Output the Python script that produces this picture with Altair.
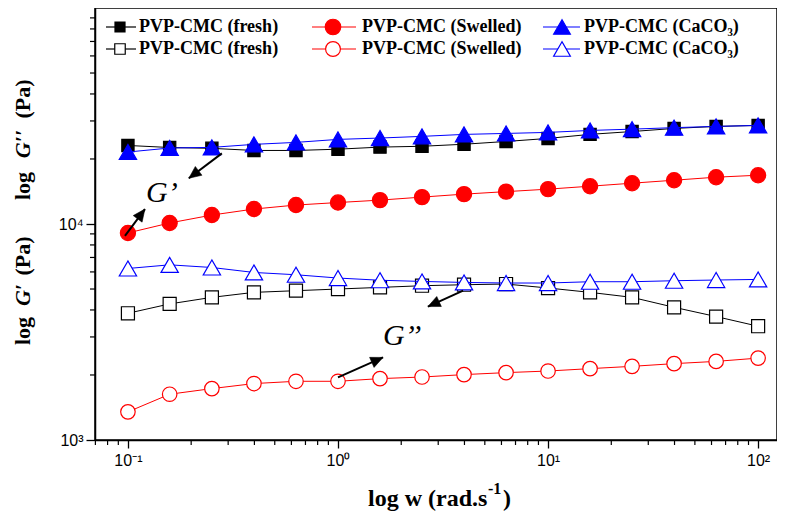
import altair as alt
import pandas as pd

# ---------------- data ----------------
freq = [0.1, 0.158, 0.251, 0.398, 0.631, 1.0, 1.585, 2.512, 3.981, 6.31,
        10.0, 15.85, 25.12, 39.81, 63.1, 100.0]

g1_fresh = [23100, 22600, 22400, 21900, 21900, 22200, 22700, 22900, 23400, 24100,
            24900, 26000, 26800, 27700, 28300, 28600]
g1_swelled = [9090, 10110, 11000, 11730, 12240, 12570, 12900, 13320, 13750, 14120,
              14500, 14960, 15450, 15950, 16470, 16820]
g1_caco3 = [21540, 22480, 22630, 23370, 23870, 24640, 25000, 25450, 25990, 26260,
            26550, 27110, 27490, 27930, 28300, 28600]
g2_fresh = [3861, 4266, 4575, 4825, 4912, 5000, 5087, 5179, 5234, 5273,
            5054, 4825, 4575, 4115, 3728, 3363]
g2_swelled = [1350, 1629, 1730, 1825, 1870, 1870, 1924, 1957, 2008, 2051,
              2086, 2140, 2193, 2257, 2312, 2394]
g2_caco3 = [6223, 6471, 6290, 5965, 5821, 5621, 5491, 5421, 5364, 5330,
            5330, 5404, 5404, 5462, 5503, 5538]

legend_labels = ["PVP-CMC (fresh)", "PVP-CMC (Swelled)", "PVP-CMC (CaCO\u2083)",
                 "PVP-CMC (fresh)", "PVP-CMC (Swelled)", "PVP-CMC (CaCO\u2083)"]

x_major = [0.1, 1, 10, 100]
x_major_labels = ["10\u207b\u00b9", "10\u2070", "10\u00b9", "10\u00b2"]
x_minor = [0.07, 0.08, 0.09,
           0.2, 0.3, 0.4, 0.5, 0.6, 0.7, 0.8, 0.9,
           2, 3, 4, 5, 6, 7, 8, 9,
           20, 30, 40, 50, 60, 70, 80, 90]

y_major = [1000, 10000]
y_major_labels = ["10\u00b3", "10\u2074"]
y_minor = [2000, 3000, 4000, 5000, 6000, 7000, 8000, 9000,
           20000, 30000, 40000, 50000, 60000, 70000, 80000, 90000]

x_title_parts = ["log w (rad.s", "-1", ")"]
y_title_upper = ["log", "G\u2032\u2032", "(Pa)"]
y_title_lower = ["log", "G\u2032", "(Pa)"]

# annotation arrows (data coordinates): start -> tip
arrow_x0 = [0.280, 0.0968, 1.0, 3.94]
arrow_y0 = [21240, 8805, 1951, 4913]
arrow_x1 = [0.195, 0.1205, 1.638, 2.68]
arrow_y1 = [16290, 11730, 2412, 4146]
annot_text = ["G\u2019", "G\u2019\u2019"]
annot_x = [0.145, 2.02]
annot_y = [13900, 3015]

# ---------------- styles ----------------
arrow_angles = [233, 36.5, 66, 245.4]
W, H = 682, 432
SERIF = "Liberation Serif"
SANS = "Liberation Sans"

styles = [
    dict(color="#000000", shape="square", filled=True, size=150),
    dict(color="#ff0000", shape="circle", filled=True, size=230),
    dict(color="#0000ff", shape="triangle-up", filled=True, size=300),
    dict(color="#000000", shape="square", filled=False, size=170),
    dict(color="#ff0000", shape="circle", filled=False, size=210),
    dict(color="#0000ff", shape="triangle-up", filled=False, size=300),
]
series_values = [g1_fresh, g1_swelled, g1_caco3, g2_fresh, g2_swelled, g2_caco3]

xscale = alt.Scale(type="log", domain=[0.0697, 123])
yscale = alt.Scale(type="log", domain=[1000, 100000])


def label_expr(vals, labs):
    parts = [f"abs(datum.value - {v}) < {v * 1e-6} ? '{l}'" for v, l in zip(vals, labs)]
    return " : ".join(parts) + " : ''"


x_axis = alt.Axis(
    values=x_major, labelExpr=label_expr(x_major, x_major_labels),
    tickSize=8, grid=False, labelOverlap=False, labelFlush=False,
    labelFont=SANS, labelFontSize=16, labelColor="black", labelPadding=4,
    domainColor="black", domainWidth=1.5, tickColor="black", tickWidth=1.3,
    title="",
)
y_axis = alt.Axis(
    values=y_major, labelExpr=label_expr(y_major, y_major_labels),
    tickSize=9, grid=False, labelOverlap=False, labelFlush=False,
    labelFont=SANS, labelFontSize=16, labelColor="black", labelPadding=3,
    domainColor="black", domainWidth=1.5, tickColor="black", tickWidth=1.3,
    title="",
)


def X(field):
    return alt.X(field, scale=xscale, axis=x_axis)


def Y(field):
    return alt.Y(field, scale=yscale, axis=y_axis)


layers = []
one = pd.DataFrame({"a": [0]})

# series
for vals, st in zip(series_values, styles):
    df = pd.DataFrame({"freq": freq, "value": vals})
    layers.append(alt.Chart(df).mark_line(color=st["color"], strokeWidth=1).encode(
        x=X("freq:Q"), y=Y("value:Q")))
    layers.append(
        alt.Chart(df).mark_point(
            shape=st["shape"], filled=True, size=st["size"], opacity=1,
            fill=st["color"] if st["filled"] else "white",
            stroke=st["color"], strokeWidth=1.2,
        ).encode(x=X("freq:Q"), y=Y("value:Q"))
    )

# minor ticks (bottom/left) and top/right ticks
xmin_df = pd.DataFrame({"t": x_minor})
xall_df = pd.DataFrame({"t": x_minor + x_major})
ymin_df = pd.DataFrame({"t": y_minor})
yall_df = pd.DataFrame({"t": y_minor + y_major})
layers.append(alt.Chart(xmin_df).mark_rule(color="black", strokeWidth=1.2).encode(
    x=X("t:Q"), y=alt.value(H), y2=alt.value(H + 5)))
layers.append(alt.Chart(xall_df).mark_rule(color="black", strokeWidth=1.2).encode(
    x=X("t:Q"), y=alt.value(0), y2=alt.value(-4)))
layers.append(alt.Chart(ymin_df).mark_rule(color="black", strokeWidth=1.2).encode(
    y=Y("t:Q"), x=alt.value(0), x2=alt.value(-5)))
layers.append(alt.Chart(yall_df).mark_rule(color="black", strokeWidth=1.2).encode(
    y=Y("t:Q"), x=alt.value(W), x2=alt.value(W + 5)))

# arrows
arr_df = pd.DataFrame({"x0": arrow_x0, "y0": arrow_y0, "x1": arrow_x1, "y1": arrow_y1,
                       "ang": arrow_angles})
layers.append(
    alt.Chart(arr_df).mark_rule(color="black", strokeWidth=2).encode(
        x=X("x0:Q"), y=Y("y0:Q"), x2="x1:Q", y2="y1:Q",
    )
)
layers.append(
    alt.Chart(arr_df).mark_point(
        shape="M0,0L-0.9,2L0.9,2Z", filled=True, fill="black", stroke="black",
        strokeWidth=0.5, size=150, opacity=1,
    ).encode(
        x=X("x1:Q"), y=Y("y1:Q"),
        angle=alt.Angle("ang:Q", scale=None),
    )
)
ann_df = pd.DataFrame({"x": annot_x, "y": annot_y, "t": annot_text})
layers.append(
    alt.Chart(ann_df).mark_text(
        font=SERIF, fontStyle="italic", fontSize=30, color="black",
        align="center", baseline="middle",
    ).encode(x=X("x:Q"), y=Y("y:Q"), text="t:N")
)

# y-axis titles (rotated pieces)
ytitle_pos = [186, 144, 99, 331, 295, 256]
ytitle_style = ["normal", "italic", "normal"] * 2
for txt, ypix, style in zip(y_title_upper + y_title_lower, ytitle_pos, ytitle_style):
    layers.append(
        alt.Chart(one).mark_text(
            text=txt, angle=270, font=SERIF, fontWeight="bold", fontStyle=style,
            fontSize=22, color="black", align="center", baseline="middle",
        ).encode(x=alt.value(-72), y=alt.value(ypix - 8))
    )

# x-axis title (pieces, with raised exponent)
xtitle_x = [273, 393, 408]
xtitle_y = [506, 494, 506]
xtitle_size = [24, 16, 24]
for txt, xp, yp, fs in zip(x_title_parts, xtitle_x, xtitle_y, xtitle_size):
    layers.append(
        alt.Chart(one).mark_text(
            text=txt, font=SERIF, fontWeight="bold", fontSize=fs, color="black",
            align="left", baseline="alphabetic",
        ).encode(x=alt.value(xp), y=alt.value(yp - 8))
    )

# legend (manual)
leg_rows = [19, 41]
leg_line = [(11, 41), (217, 261), (448, 485)]
leg_sym = [25, 238, 467]
leg_text = [44, 267, 489]
leg_sizes = [100, 240, 280, 110, 220, 280]
for i, (lab, st) in enumerate(zip(legend_labels, styles)):
    r, c = divmod(i, 3)
    yy = leg_rows[r]
    layers.append(
        alt.Chart(one).mark_rule(color=st["color"], strokeWidth=1.2).encode(
            x=alt.value(leg_line[c][0]), x2=alt.value(leg_line[c][1]), y=alt.value(yy)
        )
    )
    layers.append(
        alt.Chart(one).mark_point(
            shape=st["shape"], filled=True, size=leg_sizes[i], opacity=1,
            fill=st["color"] if st["filled"] else "white",
            stroke=st["color"], strokeWidth=1.2,
        ).encode(x=alt.value(leg_sym[c]), y=alt.value(yy))
    )
    layers.append(
        alt.Chart(one).mark_text(
            text=lab, font=SERIF, fontWeight="bold", fontSize=18, color="black",
            align="left", baseline="middle",
        ).encode(x=alt.value(leg_text[c]), y=alt.value(yy))
    )

chart = alt.layer(*layers).properties(
    width=W, height=H,
    autosize=alt.AutoSizeParams(type="none"),
    padding={"left": 87, "top": 0, "right": 0, "bottom": 81},
    background="white",
).configure_view(stroke="black", strokeWidth=1.5)

chart.save("out.html", embed_options={"renderer": "svg", "actions": False})
